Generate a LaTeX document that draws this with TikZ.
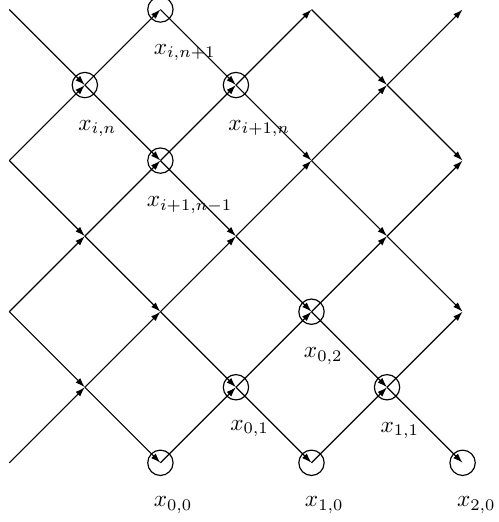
\documentclass[tikz,border=0pt]{standalone}
\usetikzlibrary{arrows.meta}
\begin{document}
\begin{tikzpicture}[x=0.43pt,y=-0.43pt,
  seg/.style={line width=0.5pt,-{Latex[length=4.2pt,width=2.8pt]}},
  vtx/.style={circle,draw,line width=0.5pt,inner sep=0pt,minimum size=10.9pt},
  lbl/.style={anchor=base west,inner sep=0pt}]
\useasboundingbox (0,0) rectangle (499,522);
\foreach \c in {0,...,6}{
  \foreach \r in {0,...,6}{
    \coordinate (p\c\r) at ({9.3+75.55*\c},{9.5+75.55*\r});
  }
}
% connectors, one arrow per lattice step
\foreach \a/\b in {00/11,11/22,22/33,33/44,44/55,55/66,
                   20/31,31/42,42/53,53/64,
                   40/51,51/62,
                   02/13,13/24,24/35,35/46,
                   04/15,15/26,
                   02/11,11/20,
                   04/13,13/22,22/31,31/40,
                   06/15,15/24,24/33,33/42,42/51,51/60,
                   26/35,35/44,44/53,53/62,
                   46/55,55/64}
  \draw[seg] (p\a) -- (p\b);
% circles
\node[vtx] (v20) at (p20) {};
\node[vtx] (v11) at (p11) {};
\node[vtx] (v31) at (p31) {};
\node[vtx] (v22) at (p22) {};
\node[vtx] (v44) at (p44) {};
\node[vtx] (v35) at (p35) {};
\node[vtx] (v55) at (p55) {};
\node[vtx] (v26) at (p26) {};
\node[vtx] (v46) at (p46) {};
\node[vtx] (v66) at (p66) {};
% labels
\node[lbl] (l20) at ([shift={(-7,45)}]p20) {$x_{i,n+1}$};
\node[lbl] (l11) at ([shift={(-7,45)}]p11) {$x_{i,n}$};
\node[lbl] (l31) at ([shift={(-8,45)}]p31) {$x_{i+1,n}$};
\node[lbl] (l22) at ([shift={(-14,46)}]p22) {$x_{i+1,n-1}$};
\node[lbl] (l44) at ([shift={(-8,46)}]p44) {$x_{0,2}$};
\node[lbl] (l35) at ([shift={(-6,43)}]p35) {$x_{0,1}$};
\node[lbl] (l55) at ([shift={(-7,45)}]p55) {$x_{1,1}$};
\node[lbl] (l26) at ([shift={(-7,44)}]p26) {$x_{0,0}$};
\node[lbl] (l46) at ([shift={(-7,44)}]p46) {$x_{1,0}$};
\node[lbl] (l66) at ([shift={(-6,44)}]p66) {$x_{2,0}$};
\end{tikzpicture}
\end{document}
